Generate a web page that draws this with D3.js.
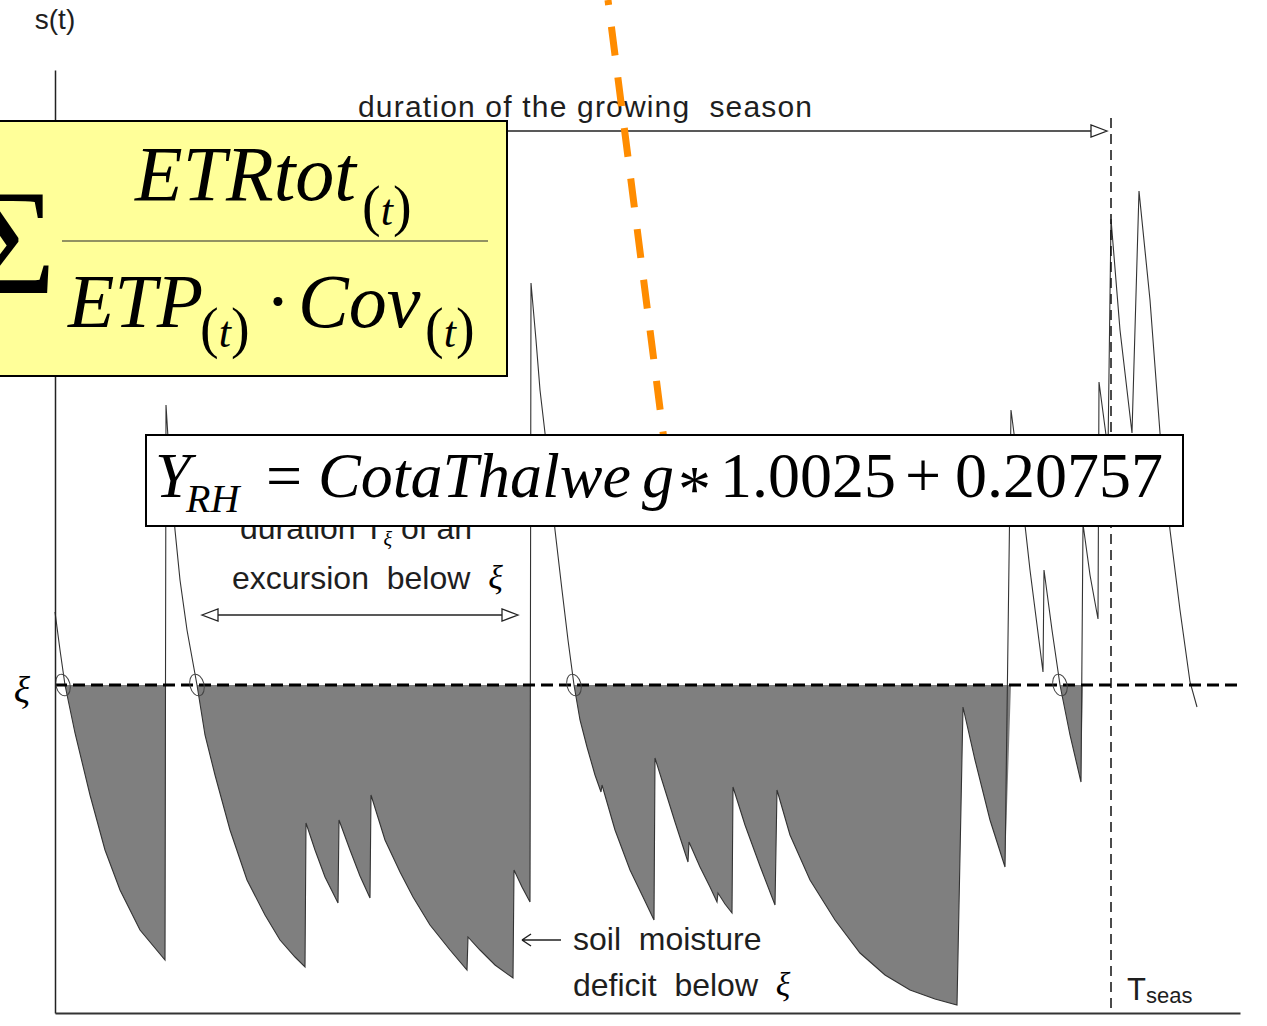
<!DOCTYPE html>
<html>
<head>
<meta charset="utf-8">
<script src="https://cdn.jsdelivr.net/npm/d3@7"></script>
<style>
  body { margin: 0; background: #fff; }
  svg { display: block; }
  .lbl { font-family: "Liberation Sans", Arial, sans-serif; fill: #1e1e1e; white-space: pre; }
  .math { font-family: "Liberation Serif", "Times New Roman", serif; fill: #000; white-space: pre; }
</style>
</head>
<body>
<svg width="1267" height="1026"></svg>
<script>
// soil moisture trace s(t): time in days, moisture in mm
const tDays = [0, 1, 2, 4, 7, 10, 13, 17, 22,
  22.2, 23, 24, 25, 26.4, 28.4, 30, 32, 35, 38.4, 42, 45, 48, 50,
  50.2, 52, 54, 56.6,
  56.8, 59, 61, 63,
  63.2, 66, 69, 71.6, 75, 79, 82.4,
  82.6, 85, 88, 91.6,
  91.8, 93.4, 95,
  95.2, 96.2, 97, 98, 99, 100, 101.4, 102.6, 103.8, 105, 106.4, 108, 109.2,
  109.4, 112, 115, 117.6, 119.8,
  120, 122, 124, 126.6,
  126.8, 129, 131, 132.4,
  132.6, 134, 135.4,
  135.6, 138, 141, 144,
  144.4, 147, 151, 156, 161, 166, 171, 176, 180.4,
  181.6, 184, 187, 190,
  191.2, 193, 195, 197.6,
  197.8, 199.4, 201, 203, 205.2,
  205.6, 207, 208.6,
  208.8, 209.8, 210.6,
  211.2, 213, 215.4,
  216.8, 219, 221, 223, 225, 227, 228.4];
const sMoist = [40.1, 36.3, 32.8, 28.0, 21.8, 16.3, 12.3, 8.3, 5.3,
  60.8, 54.3, 48.3, 43.3, 38.3, 32.8, 27.8, 23.8, 18.3, 13.3, 9.8, 7.3, 5.6, 4.6,
  19.0, 16.3, 13.6, 11.0,
  19.3, 16.3, 13.7, 11.5,
  21.8, 17.3, 14.1, 11.6, 8.8, 6.3, 4.3,
  7.6, 6.3, 4.8, 3.5,
  14.3, 12.6, 11.1,
  73.0, 67.3, 62.3, 58.0, 53.3, 48.3, 42.3, 37.3, 32.8, 29.3, 26.6, 23.8, 22.1,
  22.8, 18.3, 14.3, 11.6, 9.3,
  25.5, 22.3, 19.1, 15.1,
  17.1, 14.6, 12.6, 11.1,
  12.0, 10.9, 10.0,
  22.6, 18.8, 14.7, 10.8,
  22.3, 17.8, 13.3, 9.3, 6.0, 3.8, 2.3, 1.4, 0.8,
  30.6, 25.3, 19.3, 14.6,
  60.3, 53.3, 44.3, 34.1,
  44.3, 38.3, 32.8, 27.8, 23.1,
  48.9, 43.8, 39.4,
  63.1, 59.3, 56.3,
  79.4, 68.3, 58.0,
  82.2, 71.3, 58.0, 48.3, 40.3, 33.1, 30.6];

const xi = 32.8;            // threshold ξ
const tSeas = 211.2;        // end of growing season
const crossings = [1.6, 28.4, 103.8, 201];   // downward crossings of ξ
const orangeTrend = [[110.6, 101.3], [121.8, 57.3]];

const svg = d3.select('svg');

const x = d3.scaleLinear().domain([0, 237]).range([55, 1240]);
const y = d3.scaleLinear().domain([0, 94.3]).range([1013, 70]);

const data = tDays.map((t, i) => ({ t: t, s: sMoist[i] }));

const g = svg.append('g');

// deficit below ξ during the season
const area = d3.area()
  .x(d => x(d.t))
  .y0(y(xi))
  .y1(d => y(Math.min(d.s, xi)));

g.append('path')
  .datum(data.filter(d => d.t <= tSeas))
  .attr('d', area)
  .attr('fill', '#7f7f7f');

const line = d3.line()
  .x(d => x(d.t))
  .y(d => y(d.s));

g.append('path')
  .datum(data)
  .attr('d', line)
  .attr('fill', 'none')
  .attr('stroke', '#333')
  .attr('stroke-width', 1.1);

// threshold line
g.append('line')
  .attr('x1', x(0)).attr('x2', x(237))
  .attr('y1', y(xi)).attr('y2', y(xi))
  .attr('stroke', '#000')
  .attr('stroke-width', 3)
  .attr('stroke-dasharray', '12,6');

g.selectAll('ellipse.cross').data(crossings)
  .join('ellipse')
  .attr('class', 'cross')
  .attr('cx', d => x(d))
  .attr('cy', y(xi))
  .attr('rx', 7).attr('ry', 11)
  .attr('transform', d => `rotate(-15,${x(d)},${y(xi)})`)
  .attr('fill', 'none')
  .attr('stroke', '#444')
  .attr('stroke-width', 1);

// axes (bare lines)
const yAxisG = g.append('g')
  .attr('transform', `translate(${x(0)},0)`)
  .call(d3.axisLeft(y).tickValues([]).tickSizeOuter(0));
yAxisG.select('.domain').attr('stroke', '#222').attr('stroke-width', 1.5);

const xAxisG = g.append('g')
  .attr('transform', `translate(0,${y(0)})`)
  .call(d3.axisBottom(x).tickValues([]).tickSizeOuter(0));
xAxisG.select('.domain').attr('stroke', '#333').attr('stroke-width', 2);

// end of season marker
g.append('line')
  .attr('x1', x(tSeas)).attr('x2', x(tSeas))
  .attr('y1', y(89.5)).attr('y2', y(0))
  .attr('stroke', '#111')
  .attr('stroke-width', 1.5)
  .attr('stroke-dasharray', '10,6');

// open triangle arrow head
const head = (tip, yy, dir) => {
  const b = tip - dir * 16;
  return `M${tip},${yy}L${b},${yy - 6}L${b},${yy + 6}Z`;
};

// growing season arrow
const ySeason = y(88.2);
g.append('line')
  .attr('x1', x(0)).attr('x2', x(tSeas) - 20)
  .attr('y1', ySeason).attr('y2', ySeason)
  .attr('stroke', '#222').attr('stroke-width', 1.5);
g.append('path')
  .attr('d', head(x(tSeas) - 4, ySeason, 1))
  .attr('fill', '#fff').attr('stroke', '#222').attr('stroke-width', 1.3);

g.append('text')
  .attr('class', 'lbl')
  .attr('x', 358).attr('y', 117)
  .attr('font-size', 30)
  .attr('textLength', 454)
  .attr('lengthAdjust', 'spacing')
  .text('duration of the growing  season');

// excursion arrow
const yExc = y(39.8);
const xa = x(29.4), xb = x(92.6);
g.append('line')
  .attr('x1', xa + 16).attr('x2', xb - 16)
  .attr('y1', yExc).attr('y2', yExc)
  .attr('stroke', '#222').attr('stroke-width', 1.5);
g.append('path').attr('d', head(xa, yExc, -1))
  .attr('fill', '#fff').attr('stroke', '#222').attr('stroke-width', 1.3);
g.append('path').attr('d', head(xb, yExc, 1))
  .attr('fill', '#fff').attr('stroke', '#222').attr('stroke-width', 1.3);

const dur = g.append('text')
  .attr('class', 'lbl')
  .attr('x', 240).attr('y', 539)
  .attr('font-size', 32);
dur.append('tspan').text('duration T');
dur.append('tspan').attr('class', 'math').attr('font-style', 'italic')
  .attr('font-size', 20).attr('dy', 7).text('ξ');
dur.append('tspan').attr('dy', -7).text(' of an');

const exc = g.append('text')
  .attr('class', 'lbl')
  .attr('x', 232).attr('y', 589)
  .attr('font-size', 32);
exc.append('tspan').text('excursion  below  ');
exc.append('tspan').attr('class', 'math').attr('font-style', 'italic')
  .attr('font-size', 34).text('ξ');

// soil moisture deficit label
g.append('path')
  .attr('d', 'M522,940H561M522,940L531,934M522,940L531,946')
  .attr('fill', 'none').attr('stroke', '#222').attr('stroke-width', 1.5);
g.append('text')
  .attr('class', 'lbl')
  .attr('x', 573).attr('y', 950)
  .attr('font-size', 32)
  .text('soil  moisture');
const def = g.append('text')
  .attr('class', 'lbl')
  .attr('x', 573).attr('y', 996)
  .attr('font-size', 32);
def.append('tspan').text('deficit  below  ');
def.append('tspan').attr('class', 'math').attr('font-style', 'italic')
  .attr('font-size', 34).text('ξ');

// axis labels
g.append('text')
  .attr('class', 'lbl')
  .attr('x', 55).attr('y', 29)
  .attr('text-anchor', 'middle')
  .attr('font-size', 28)
  .text('s(t)');

g.append('text')
  .attr('class', 'math')
  .attr('x', 22).attr('y', 703)
  .attr('text-anchor', 'middle')
  .attr('font-style', 'italic')
  .attr('font-size', 38)
  .text('ξ');

const ts = g.append('text')
  .attr('class', 'lbl')
  .attr('x', 1127).attr('y', 1000)
  .attr('font-size', 31);
ts.append('tspan').text('T');
ts.append('tspan').attr('font-size', 22).attr('dy', 3).text('seas');

// yellow formula box
const box1 = svg.append('g');
box1.append('rect')
  .attr('x', -5).attr('y', 121)
  .attr('width', 512).attr('height', 255)
  .attr('fill', '#ffff99')
  .attr('stroke', '#000').attr('stroke-width', 2);

box1.append('text')
  .attr('class', 'math')
  .attr('x', 56).attr('y', 293)
  .attr('text-anchor', 'end')
  .attr('font-size', 150)
  .text('Σ');

box1.append('line')
  .attr('x1', 62).attr('x2', 488)
  .attr('y1', 241).attr('y2', 241)
  .attr('stroke', '#6e6e50').attr('stroke-width', 1.5);

const sub = (sel, x0, yb) => {
  const t = sel.append('text').attr('class', 'math').attr('x', x0).attr('y', yb);
  t.append('tspan').attr('font-size', 56).text('(');
  t.append('tspan').attr('font-size', 44).attr('font-style', 'italic').text('t');
  t.append('tspan').attr('font-size', 56).text(')');
};

box1.append('text')
  .attr('class', 'math')
  .attr('x', 135).attr('y', 200)
  .attr('font-size', 78)
  .attr('font-style', 'italic')
  .text('ETRtot');
sub(box1, 362, 225);

box1.append('text')
  .attr('class', 'math')
  .attr('x', 68).attr('y', 327)
  .attr('font-size', 76)
  .attr('font-style', 'italic')
  .text('ETP');
sub(box1, 200, 347);
box1.append('text')
  .attr('class', 'math')
  .attr('x', 278).attr('y', 327)
  .attr('text-anchor', 'middle')
  .attr('font-size', 76)
  .text('·');
box1.append('text')
  .attr('class', 'math')
  .attr('x', 298).attr('y', 327)
  .attr('font-size', 76)
  .attr('font-style', 'italic')
  .text('Cov');
sub(box1, 425, 347);

// orange dashed trend
svg.append('path')
  .datum(orangeTrend)
  .attr('d', d3.line().x(d => x(d[0])).y(d => y(d[1])))
  .attr('fill', 'none')
  .attr('stroke', '#ff8c00')
  .attr('stroke-width', 7)
  .attr('stroke-dasharray', '29,22')
  .attr('stroke-dashoffset', 24);

// regression box
const box2 = svg.append('g');
box2.append('rect')
  .attr('x', 146).attr('y', 435)
  .attr('width', 1037).attr('height', 91)
  .attr('fill', '#fff')
  .attr('stroke', '#000').attr('stroke-width', 2);

const eq = [
  { s: 'Y', x: 155, it: true, fs: 64, dy: 0 },
  { s: 'RH', x: 186, it: true, fs: 40, dy: 15 },
  { s: '=', x: 266, it: false, fs: 64, dy: 0 },
  { s: 'CotaThalwe', x: 318, it: true, fs: 64, dy: 0 },
  { s: 'g', x: 642, it: true, fs: 64, dy: 0 },
  { s: '*', x: 678, it: false, fs: 66, dy: 14 },
  { s: '1.0025', x: 720, it: false, fs: 64, dy: 0 },
  { s: '+', x: 905, it: false, fs: 64, dy: 0 },
  { s: '0.20757', x: 955, it: false, fs: 64, dy: 0 }
];
box2.selectAll('text').data(eq).join('text')
  .attr('class', 'math')
  .attr('x', d => d.x)
  .attr('y', d => 497 + d.dy)
  .attr('font-size', d => d.fs)
  .attr('font-style', d => d.it ? 'italic' : 'normal')
  .text(d => d.s);
</script>
</body>
</html>
